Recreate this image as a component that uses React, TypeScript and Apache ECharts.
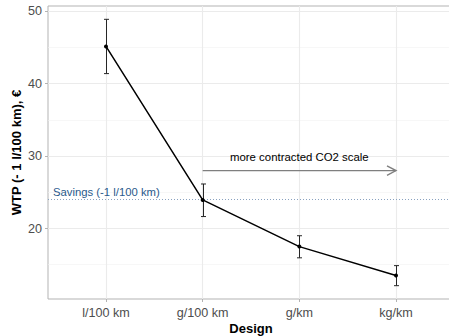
import React, { useEffect, useRef } from "react";
import * as echarts from "echarts";

const categories = ["l/100 km", "g/100 km", "g/km", "kg/km"];
const categoryPos = [1, 2, 3, 4];
const wtpMean = [45.15, 23.95, 17.5, 13.5];
const wtpLower = [41.4, 21.65, 15.95, 12.1];
const wtpUpper = [48.9, 26.15, 19.0, 14.87];
const yTicks = [20, 30, 40, 50];
const yMinor = [15, 25, 35, 45];
const savingsValue = 24.0;
const savingsLabel = "Savings (-1 l/100 km)";
const arrowFrom = [2, 28];
const arrowTo = [4, 28];
const arrowText = "more contracted CO2 scale";
const yMin = 10.26;
const yMax = 50.74;

const FONT = "Liberation Sans, Arial, sans-serif";

export default function App() {
  const ref = useRef<HTMLDivElement>(null);
  useEffect(() => {
    if (!ref.current) return;
    const chart = echarts.init(ref.current, null, { renderer: "svg" });
    const linePts = categoryPos.map((x, i) => [x, wtpMean[i]]);
    const errData = categoryPos.map((x, i) => [x, wtpLower[i], wtpUpper[i]]);
    const option: any = {
      animation: false,
      textStyle: { fontFamily: FONT },
      grid: {
        left: 48,
        right: -5,
        top: 6,
        bottom: 37,
        outerBoundsMode: "none",
        containLabel: false,
        show: true,
        borderColor: "#b3b3b3",
        borderWidth: 1,
        backgroundColor: "#fff",
      },
      xAxis: {
        type: "value",
        min: 0.4,
        max: 4.6,
        name: "Design",
        nameLocation: "middle",
        nameMoveOverlap: false,
        nameGap: 23,
        nameTextStyle: { fontFamily: FONT, fontSize: 13, fontWeight: "bold", color: "#000" },
        axisLine: { show: false },
        splitLine: { show: false },
        axisTick: {
          show: true,
          customValues: categoryPos,
          length: 3,
          lineStyle: { color: "#b3b3b3" },
        },
        axisLabel: {
          customValues: categoryPos,
          margin: 7,
          fontFamily: FONT,
          fontSize: 12.6,
          color: "#4d4d4d",
          formatter: (v: number) => categories[Math.round(v) - 1] ?? "",
        },
      },
      yAxis: {
        type: "value",
        min: yMin,
        max: yMax,
        name: "WTP (- 1 l/100 km), €",
        nameLocation: "middle",
        nameMoveOverlap: false,
        nameGap: 25,
        nameTextStyle: { fontFamily: FONT, fontSize: 13, fontWeight: "bold", color: "#000" },
        axisLine: { show: false },
        splitLine: { show: false },
        axisTick: {
          show: true,
          customValues: yTicks,
          length: 3,
          lineStyle: { color: "#b3b3b3" },
        },
        axisLabel: {
          customValues: yTicks,
          margin: 6,
          fontFamily: FONT,
          fontSize: 12.6,
          color: "#4d4d4d",
        },
      },
      series: [
        {
          type: "line",
          data: [],
          silent: true,
          z: 1,
          markLine: {
            z: 1,
            silent: true,
            symbol: "none",
            label: { show: false },
            data: [
              ...yMinor.map((v) => ({ yAxis: v, lineStyle: { color: "#f2f2f2", width: 0.6, type: "solid" } })),
              ...yTicks.map((v) => ({ yAxis: v, lineStyle: { color: "#ebebeb", width: 1.1, type: "solid" } })),
              ...categoryPos.map((v) => ({ xAxis: v, lineStyle: { color: "#ebebeb", width: 1.1, type: "solid" } })),
            ],
          },
        },
        {
          type: "line",
          data: [],
          silent: true,
          z: 2,
          markLine: {
            z: 2,
            silent: true,
            symbol: "none",
            data: [
              {
                yAxis: savingsValue,
                lineStyle: { color: "#8aa2c0", width: 1, type: [1, 2] },
                label: {
                  show: true,
                  position: "insideStartTop",
                  formatter: savingsLabel,
                  color: "#2a5a8c",
                  fontFamily: FONT,
                  fontSize: 11.3,
                  distance: [5, 2],
                },
              },
            ],
          },
        },
        {
          type: "custom",
          z: 10,
          silent: true,
          data: [[arrowFrom[0], arrowFrom[1], arrowTo[0], arrowTo[1]]],
          renderItem: (params: any, api: any) => {
            const a = api.coord([api.value(0), api.value(1)]);
            const b = api.coord([api.value(2), api.value(3)]);
            const mid = api.coord([(api.value(0) + api.value(2)) / 2, api.value(1)]);
            const stroke = { stroke: "#7f7f7f", lineWidth: 1.4, fill: "none" };
            return {
              type: "group",
              children: [
                { type: "line", shape: { x1: a[0], y1: a[1], x2: b[0], y2: b[1] }, style: stroke },
                {
                  type: "polyline",
                  shape: { points: [[b[0] - 9, b[1] - 4.7], [b[0], b[1]], [b[0] - 9, b[1] + 4.7]] },
                  style: stroke,
                },
                {
                  type: "text",
                  x: mid[0],
                  y: mid[1] - 14,
                  style: {
                    text: arrowText,
                    fill: "#000",
                    font: `11.4px ${FONT}`,
                    align: "center",
                    verticalAlign: "middle",
                  },
                },
              ],
            };
          },
        },
        {
          type: "custom",
          z: 11,
          silent: true,
          data: errData,
          renderItem: (params: any, api: any) => {
            const x = api.value(0);
            const lo = api.coord([x, api.value(1)]);
            const hi = api.coord([x, api.value(2)]);
            const px = Math.round(lo[0]) + 0.5;
            const hw = 2.5;
            const st = { stroke: "#262626", lineWidth: 1, fill: "none" };
            return {
              type: "group",
              children: [
                { type: "line", shape: { x1: px, y1: lo[1], x2: px, y2: hi[1] }, style: st },
                { type: "line", shape: { x1: px - hw, y1: lo[1], x2: px + hw, y2: lo[1] }, style: st },
                { type: "line", shape: { x1: px - hw, y1: hi[1], x2: px + hw, y2: hi[1] }, style: st },
              ],
            };
          },
        },
        {
          type: "line",
          z: 12,
          silent: true,
          data: linePts,
          symbol: "circle",
          symbolSize: 4,
          showSymbol: true,
          lineStyle: { color: "#000", width: 1.5 },
          itemStyle: { color: "#000" },
        },
      ],
    };
    chart.setOption(option);
    return () => chart.dispose();
  }, []);
  return <div ref={ref} style={{ width: 449, height: 336, position: "absolute", left: 0, top: 0 }} />;
}
